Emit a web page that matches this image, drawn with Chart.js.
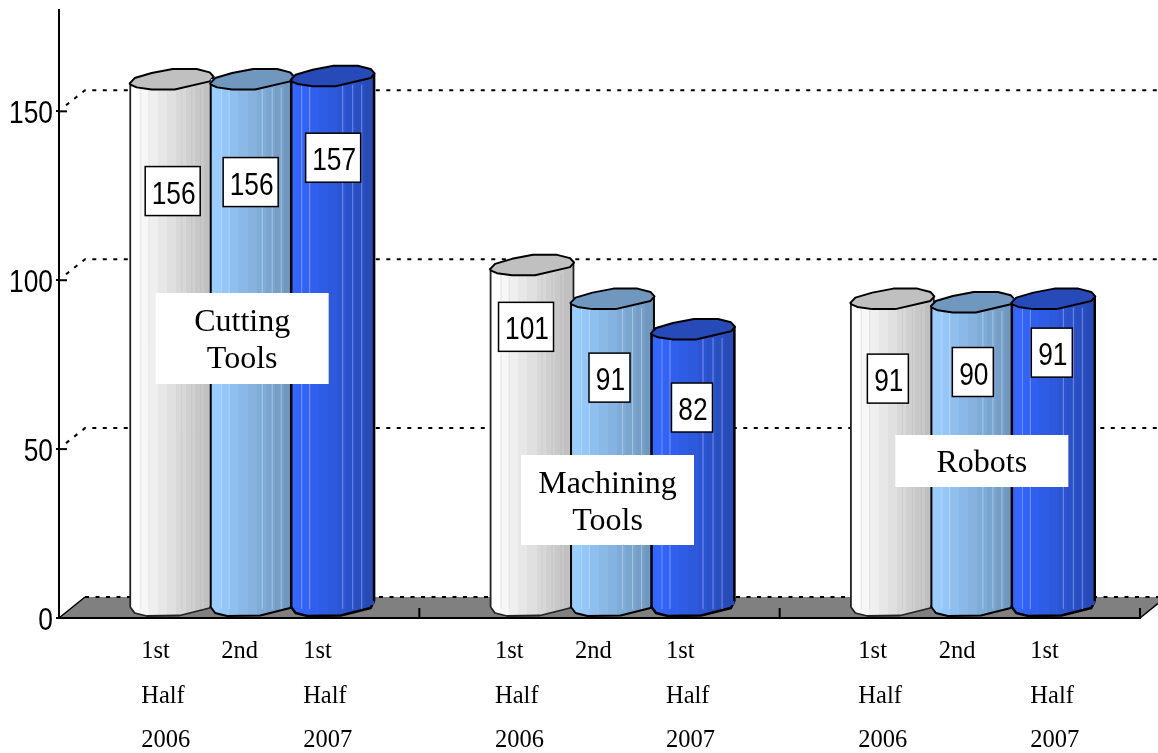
<!DOCTYPE html>
<html lang="en">

<head>
  <meta charset="UTF-8">
  <title>Orders by segment</title>
  <script src="https://cdn.jsdelivr.net/npm/chart.js"></script>
  <style>
    html, body { margin: 0; background: #fff; }
    canvas { display: block; }
  </style>
</head>

<body>
  <canvas id="chart" width="1158" height="753"></canvas>
  <script>
    const categories = ['Cutting Tools', 'Machining Tools', 'Robots'];
    const firstHalf2006 = [156, 101, 91];
    const secondHalf2006 = [156, 91, 90];
    const firstHalf2007 = [157, 82, 91];
    const yTicks = [0, 50, 100, 150];
    const periodRows = [['1st', '2nd', '1st'], ['Half', '', 'Half'], ['2006', '', '2007']];

    // 3D look: how far the back wall sits from the front plane
    const depthX = 26, depthY = 21;
    const barShiftX = 13, barShiftY = 12;
    const catPct = 0.67, barPct = 1.03;
    const gothic = '"Liberation Sans", sans-serif';
    const serif = '"Liberation Serif", serif';

    const styles = [
      { from: [255, 255, 255], to: [192, 192, 192], cap: '#c0c0c0', edge: '#222', width: 1.8, line: 'rgba(120,120,120,.12)' },
      { from: [153, 204, 255], to: [112, 152, 191], cap: '#7098bf', edge: '#000', width: 2, line: 'rgba(255,255,255,.35)' },
      { from: [51, 102, 255], to: [38, 75, 184], cap: '#264bb8', edge: '#000', width: 2.5, line: 'rgba(255,255,255,.35)' }
    ];
    // outline of the cylinder ends, px from the centre of the end
    const capShape = [[-42, 4.3], [-37, -1], [-20, -6], [1, -10], [25, -10], [38, -6.7], [42, -2.3], [38, 2.3], [3, 10.5], [-20, 10.5], [-35, 8.3], [-41, 5.7]];
    const baseShape = [[41.5, -4], [38, 3], [8, 10.5], [-25, 11], [-37, 8], [-41.5, 2]];
    const sideLines = [10, 18, 51, 61, 70];
    // hand placement of the labels, per bar
    const boxNudge = [[1, 112], [-1.5, 103], [0.5, 82], [-6, 62], [-3, 79], [-1, 78.5], [-4.5, 80], [0, 70], [-1.5, 54]];
    const rowNudge = [-17.5, -18, -16.5, -24, -24.5, -14, -21, -21, -10];
    const groupBox = [{ dx: 3, top: 293, h: 91 }, { dx: 8, top: 455, h: 90 }, { dx: 22, top: 435, h: 52 }];

    function bands(c, st) {
      const ctx = c.chart.ctx;
      const xs = c.chart.scales.x;
      const step = xs ? xs.width / categories.length * catPct / 3 : NaN;
      const mid = xs ? xs.getPixelForTick(c.dataIndex) + (c.datasetIndex - 1) * step : NaN;
      const w = step * barPct;
      // scales have no size yet on the first pass
      if (!Number.isFinite(mid) || !Number.isFinite(w)) return `rgb(${st.from.join(',')})`;
      const g = ctx.createLinearGradient(mid - w / 2, 0, mid + w / 2, 0);
      const n = 9;
      for (let i = 0; i < n; i++) {
        const t = i / (n - 1);
        const rgb = st.from.map((v, k) => Math.round(v + (st.to[k] - v) * t));
        const col = `rgb(${rgb.join(',')})`;
        g.addColorStop(i / n, col);
        g.addColorStop((i + 1) / n, col);
      }
      return g;
    }

    function tracePath(ctx, pts, cx, cy) {
      pts.forEach((p, i) => {
        if (i === 0) ctx.moveTo(cx + p[0], cy + p[1]);
        else ctx.lineTo(cx + p[0], cy + p[1]);
      });
    }

    // the gothic digits of the original are narrow, squeeze them
    function narrowText(ctx, text, x, y, size) {
      ctx.save();
      ctx.translate(x, y);
      ctx.scale(0.85, 1);
      ctx.font = `${size}px ${gothic}`;
      ctx.fillText(text, 0, 0);
      ctx.restore();
    }

    function drawCylinders(chart, index) {
      const { ctx } = chart;
      const st = styles[index];
      const meta = chart.getDatasetMeta(index);
      ctx.save();
      ctx.translate(barShiftX, -barShiftY);
      ctx.lineJoin = 'round';
      meta.data.forEach(bar => {
        const l = bar.x - bar.width / 2, r = bar.x + bar.width / 2;
        ctx.beginPath();
        tracePath(ctx, baseShape, bar.x, bar.base);
        ctx.lineTo(l, bar.base - 6);
        ctx.lineTo(r, bar.base - 6);
        ctx.closePath();
        ctx.fillStyle = bar.options.backgroundColor;
        ctx.fill();
        ctx.beginPath();
        tracePath(ctx, baseShape, bar.x, bar.base);
        ctx.strokeStyle = st.edge;
        ctx.lineWidth = st.width;
        ctx.stroke();
      });
      meta.controller.draw();
      meta.data.forEach(bar => {
        const l = bar.x - bar.width / 2, r = bar.x + bar.width / 2;
        ctx.strokeStyle = st.line;
        ctx.lineWidth = 1;
        sideLines.forEach(dx => {
          ctx.beginPath();
          ctx.moveTo(l + dx + 0.5, bar.y + 9);
          ctx.lineTo(l + dx + 0.5, bar.base + 4);
          ctx.stroke();
        });
        // side edges
        ctx.strokeStyle = st.edge;
        ctx.lineWidth = st.width;
        ctx.beginPath();
        ctx.moveTo(l, bar.y + 4);
        ctx.lineTo(l, bar.base + 2);
        ctx.moveTo(r, bar.y - 2);
        ctx.lineTo(r, bar.base - 4);
        ctx.stroke();
        // top face
        ctx.beginPath();
        tracePath(ctx, capShape, bar.x, bar.y);
        ctx.closePath();
        ctx.fillStyle = st.cap;
        ctx.fill();
        ctx.strokeStyle = '#000';
        ctx.lineWidth = 2;
        ctx.stroke();
      });
      ctx.restore();
    }

    const cylinder = {
      id: 'cylinder',
      // floor and dotted walls go under the axes
      beforeDraw(chart) {
        const { ctx, chartArea: a, scales: { y } } = chart;
        const y0 = y.getPixelForValue(0);
        ctx.save();
        ctx.beginPath();
        ctx.moveTo(a.left, y0);
        ctx.lineTo(a.left + depthX, y0 - depthY);
        ctx.lineTo(a.right + depthX, y0 - depthY);
        ctx.lineTo(a.right, y0);
        ctx.closePath();
        ctx.fillStyle = '#808080';
        ctx.fill();
        ctx.strokeStyle = '#000';
        ctx.lineWidth = 1.5;
        ctx.beginPath();
        ctx.moveTo(a.right, y0);
        ctx.lineTo(a.right + depthX, y0 - depthY);
        ctx.moveTo(a.left, y0);
        ctx.lineTo(a.left + depthX, y0 - depthY);
        ctx.stroke();
        ctx.lineWidth = 2;
        ctx.setLineDash([4, 6.5]);
        yTicks.forEach(v => {
          const py = y.getPixelForValue(v);
          ctx.beginPath();
          if (v !== 0) {
            ctx.moveTo(a.left + 7, py - 6);
            ctx.lineTo(a.left + depthX, py - depthY);
          } else {
            ctx.moveTo(a.left + depthX, py - depthY);
          }
          ctx.lineTo(chart.width, py - depthY);
          ctx.stroke();
        });
        ctx.restore();
      },
      beforeDatasetsDraw(chart) {
        const { ctx, chartArea: a, scales: { x, y } } = chart;
        ctx.save();
        ctx.strokeStyle = '#000';
        ctx.fillStyle = '#000';
        ctx.lineWidth = 2;
        ctx.textAlign = 'right';
        ctx.textBaseline = 'middle';
        yTicks.forEach(v => {
          const py = y.getPixelForValue(v);
          ctx.beginPath();
          ctx.moveTo(a.left, py);
          ctx.lineTo(a.left + 8, py);
          ctx.stroke();
          narrowText(ctx, String(v), a.left - 6, py + 3, 31);
        });
        const cw = x.width / categories.length;
        for (let i = 1; i <= categories.length; i++) {
          ctx.beginPath();
          ctx.moveTo(a.left + cw * i, a.bottom);
          ctx.lineTo(a.left + cw * i, a.bottom - 10);
          ctx.stroke();
        }
        ctx.restore();
      },
      // Chart.js paints the first dataset last, the original has the last one in front
      beforeDatasetDraw() {
        return false;
      },
      afterDatasetsDraw(chart) {
        const { ctx, scales: { x } } = chart;
        [0, 1, 2].forEach(ds => drawCylinders(chart, ds));

        ctx.save();
        ctx.textAlign = 'center';
        ctx.textBaseline = 'middle';

        // value boxes
        [0, 1, 2].forEach(ds => {
          chart.getDatasetMeta(ds).data.forEach((bar, i) => {
            const n = boxNudge[i * 3 + ds];
            const text = String(chart.data.datasets[ds].data[i]);
            const w = text.length > 2 ? 55 : 41, h = 49;
            const cx = bar.x + barShiftX + n[0];
            const cy = bar.y - barShiftY + n[1];
            ctx.fillStyle = '#fff';
            ctx.fillRect(cx - w / 2, cy - h / 2, w, h);
            ctx.strokeStyle = '#000';
            ctx.lineWidth = 1.5;
            ctx.strokeRect(cx - w / 2, cy - h / 2, w, h);
            ctx.fillStyle = '#000';
            narrowText(ctx, text, cx + 1, cy + 4, 31);
          });
        });

        // segment names
        categories.forEach((name, i) => {
          const b = groupBox[i];
          const cx = x.getPixelForTick(i) + b.dx;
          ctx.fillStyle = '#fff';
          ctx.fillRect(cx - 86.5, b.top, 173, b.h);
          ctx.fillStyle = '#000';
          ctx.font = `32px ${serif}`;
          const lines = name.split(' ');
          lines.forEach((t, k) => {
            ctx.fillText(t, cx, b.top + b.h / 2 + (k - (lines.length - 1) / 2) * 37 + 3);
          });
        });

        // period rows under the bars
        ctx.textAlign = 'left';
        ctx.textBaseline = 'alphabetic';
        ctx.font = `24.5px ${serif}`;
        ctx.fillStyle = '#000';
        [0, 1, 2].forEach(ds => {
          chart.getDatasetMeta(ds).data.forEach((bar, i) => {
            const left = bar.x + rowNudge[i * 3 + ds];
            periodRows.forEach((row, r) => {
              ctx.fillText(row[ds], left, 658 + r * 44.5);
            });
          });
        });
        ctx.restore();
      }
    };

    function dataset(label, data, index) {
      return {
        label,
        data,
        clip: false,
        backgroundColor: c => bands(c, styles[index]),
        borderWidth: 0,
        categoryPercentage: catPct,
        barPercentage: barPct
      };
    }

    new Chart(document.getElementById('chart'), {
      type: 'bar',
      data: {
        labels: categories,
        datasets: [
          dataset('1st Half 2006', firstHalf2006, 0),
          dataset('2nd Half 2006', secondHalf2006, 1),
          dataset('1st Half 2007', firstHalf2007, 2)
        ]
      },
      options: {
        responsive: false,
        animation: false,
        layout: { padding: { top: 10, right: 18, left: 0, bottom: 0 } },
        plugins: { legend: { display: false }, tooltip: { enabled: false } },
        scales: {
          x: {
            ticks: { display: false },
            grid: { display: false },
            border: { color: '#000', width: 2 },
            afterFit: s => { s.height = 135; }
          },
          y: {
            min: 0,
            max: 180,
            afterBuildTicks: s => { s.ticks = yTicks.map(v => ({ value: v })); },
            ticks: { display: false },
            grid: { drawOnChartArea: false, drawTicks: true, tickLength: 3, color: '#000', lineWidth: 2 },
            border: { color: '#000', width: 2 },
            afterFit: s => { s.width = 59; }
          }
        }
      },
      plugins: [cylinder]
    });
  </script>
</body>

</html>
